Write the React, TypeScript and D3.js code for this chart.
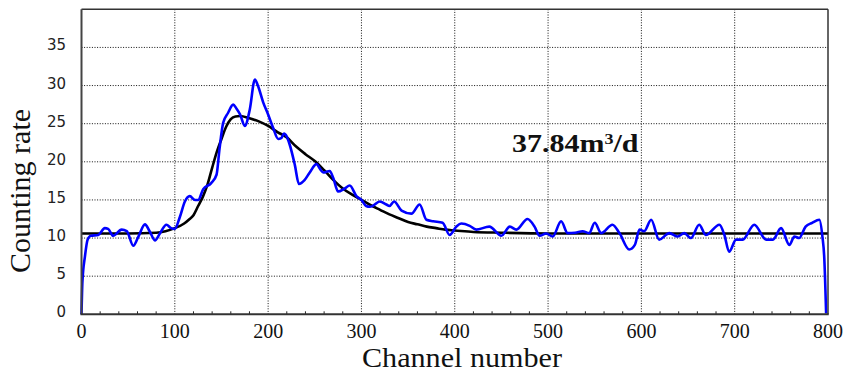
import React from "react";
import * as d3 from "d3";

const W = 843;
const H = 374;

const blueChannels = [0, 1, 3.7, 6.6, 10, 18, 25, 28.5, 34, 43, 48.5, 55.5, 61, 68, 73, 78.7, 84, 91, 96, 100, 105.5, 110.8, 116, 121.6, 125, 130.4, 139, 144.7, 148, 151.8, 157, 162.5, 166, 170, 175, 180.4, 185.8, 189, 194.7, 200, 205.2, 210.8, 214, 217, 220, 223, 228.6, 233, 239, 244.6, 251.8, 256, 259, 266, 270, 275, 282, 287.5, 294.6, 300, 305, 309, 312, 319.6, 326.7, 330, 335, 343, 353.5, 362.4, 369.6, 377, 387, 394.5, 401.7, 407, 416, 423, 437, 450, 459, 466, 478, 485.5, 491, 498, 505, 514, 521, 529, 537, 544, 550, 557, 569, 576.5, 587, 593, 598, 603, 610.5, 619, 630, 639, 646, 653, 662, 669, 683.6, 689, 694, 701.5, 708.6, 721, 733.6, 741, 749.7, 758.6, 764, 769, 776, 783, 790.7, 794, 796, 798];
const blueValues = [0, 4.3, 7.6, 9.8, 10.3, 10.4, 11.3, 11.2, 10.3, 11.1, 10.9, 9.0, 10.2, 11.8, 10.9, 9.7, 10.6, 11.75, 11.3, 11.2, 12.8, 14.8, 15.5, 15.0, 15.0, 16.4, 17.2, 18.3, 21.8, 25.1, 26.4, 27.5, 27.0, 26.2, 24.7, 26.9, 30.8, 30.0, 27.8, 26.2, 24.5, 23.0, 23.1, 23.7, 23.3, 22.3, 19.6, 17.1, 17.6, 18.6, 19.7, 19.0, 18.6, 18.8, 17.8, 16.1, 16.5, 16.9, 15.5, 15.0, 14.2, 14.1, 14.2, 14.8, 14.4, 14.2, 14.8, 13.6, 13.2, 14.4, 12.4, 12.2, 12.0, 10.4, 11.5, 11.9, 11.6, 11.1, 11.5, 10.3, 11.5, 11.1, 12.5, 11.5, 10.3, 10.6, 10.2, 12.2, 10.65, 10.7, 10.9, 10.65, 12.0, 10.65, 11.75, 10.65, 8.5, 9.1, 11.1, 10.9, 12.4, 9.8, 10.65, 10.2, 10.65, 10.0, 11.75, 10.4, 11.75, 10.4, 8.2, 9.8, 9.8, 11.75, 9.8, 9.8, 11.3, 9.1, 10.2, 10.0, 11.5, 12.0, 12.4, 10.2, 7.4, 0.1];

const fitChannels = [0, 50, 80, 90, 100, 110, 115, 120, 125, 130, 135, 140, 145, 150, 155, 160, 165, 170, 180, 190, 200, 210, 220, 230, 240, 250, 260, 270, 280, 290, 300, 310, 320, 330, 340, 350, 360, 370, 380, 390, 400, 420, 450, 500, 600, 700, 800];
const fitValues = [10.6, 10.6, 10.7, 10.9, 11.3, 11.9, 12.4, 13.0, 14.2, 15.4, 17.0, 19.2, 21.3, 23.0, 24.6, 25.6, 25.95, 26.0, 25.7, 25.3, 24.7, 23.9, 23.2, 22.0, 21.0, 20.1, 18.9, 17.6, 16.5, 15.7, 15.0, 14.3, 13.7, 13.1, 12.6, 12.1, 11.8, 11.5, 11.3, 11.1, 11.0, 10.8, 10.7, 10.6, 10.6, 10.6, 10.6];

const xTicks = [0, 100, 200, 300, 400, 500, 600, 700, 800];
const yTicks = [0, 5, 10, 15, 20, 25, 30, 35];
const xTitle = "Channel number";
const yTitle = "Counting rate";

export default function App() {
  const left = 81.5, right = 828, top = 9.3, bottom = 314.3;
  const x = d3.scaleLinear().domain([0, 800]).range([left, right]);
  const y = d3.scaleLinear().domain([0, 40]).range([bottom, top]);

  const blue = blueChannels.map((c, i) => [c, blueValues[i]] as [number, number]);
  const fit = fitChannels.map((c, i) => [c, fitValues[i]] as [number, number]);
  const line = d3
    .line<[number, number]>()
    .x((d) => x(d[0]))
    .y((d) => y(d[1]))
    .curve(d3.curveMonotoneX);

  const minor = d3.range(20, 800, 20).filter((v) => v % 100 !== 0);

  return (
    <svg width={W} height={H} style={{ position: "absolute", left: 0, top: 0, background: "#fff" }}>
      <rect x={0} y={0} width={W} height={H} fill="#fff" />
      {/* grid */}
      {xTicks.slice(1, -1).map((t) => (
        <line key={"gx" + t} x1={x(t)} x2={x(t)} y1={top} y2={bottom} stroke="#111" strokeWidth={1} strokeDasharray="1,1.6" />
      ))}
      {yTicks.slice(1).map((t) => (
        <line key={"gy" + t} x1={left} x2={right} y1={y(t)} y2={y(t)} stroke="#111" strokeWidth={1} strokeDasharray="1,1.6" />
      ))}
      {/* minor ticks */}
      {minor.map((t) => (
        <line key={"mt" + t} x1={x(t)} x2={x(t)} y1={bottom} y2={bottom - 3} stroke="#222" strokeWidth={1} />
      ))}
      {/* curves */}
      <path d={line(fit) || ""} fill="none" stroke="#000" strokeWidth={2.6} />
      <path d={line(blue) || ""} fill="none" stroke="#0000ff" strokeWidth={2.6} strokeLinejoin="round" />
      {/* frame */}
      <line x1={left} x2={right} y1={top} y2={top} stroke="#333" strokeWidth={1.5} />
      <line x1={right} x2={right} y1={top} y2={bottom} stroke="#333" strokeWidth={1.5} />
      <line x1={left} x2={left} y1={top} y2={bottom} stroke="#444" strokeWidth={2} />
      <line x1={left - 1} x2={right + 0.75} y1={bottom} y2={bottom} stroke="#333" strokeWidth={2} />
      {/* y tick labels */}
      {yTicks.map((t) => (
        <text key={"yl" + t} x={66} y={y(t) + 3} textAnchor="end" fontFamily="'DejaVu Sans', sans-serif" fontSize={15} fill="#222">
          {t}
        </text>
      ))}
      {/* x tick labels */}
      {xTicks.map((t) => (
        <text key={"xl" + t} x={x(t)} y={338} textAnchor="middle" fontFamily="'Liberation Serif', 'Times New Roman', serif" fontSize={20} fill="#111">
          {t}
        </text>
      ))}
      {/* axis titles */}
      <text x={462} y={367} textAnchor="middle" fontFamily="'Liberation Serif', 'Times New Roman', serif" fontSize={27} fill="#111" textLength={200} lengthAdjust="spacingAndGlyphs">
        {xTitle}
      </text>
      <text transform="translate(30,191) rotate(-90)" textAnchor="middle" fontFamily="'Liberation Serif', 'Times New Roman', serif" fontSize={30} fill="#111">
        {yTitle}
      </text>
      {/* annotation */}
      <g transform="translate(512,151.5) scale(1.2,1)">
        <text x={0} y={0} fontFamily="'Liberation Serif', 'Times New Roman', serif" fontWeight="bold" fontSize={25} fill="#111">
          37.84m
          <tspan fontSize={15} dy={-8}>3</tspan>
          <tspan dy={8}>/d</tspan>
        </text>
      </g>
    </svg>
  );
}
